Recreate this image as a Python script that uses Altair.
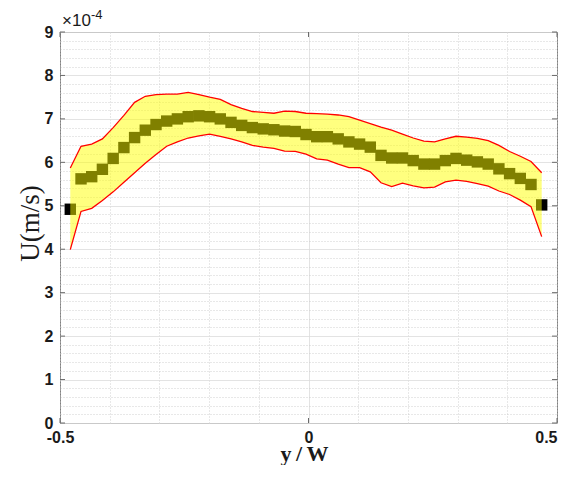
import altair as alt
import pandas as pd

# positions y/W
x_pos = [-0.4793, -0.4577, -0.4362, -0.4147, -0.3930, -0.3714, -0.3499, -0.3284, -0.3068,
         -0.2853, -0.2638, -0.2421, -0.2205, -0.1990, -0.1775, -0.1559, -0.1344, -0.1129,
         -0.0911, -0.0696, -0.0481, -0.0266, -0.0050, 0.0165, 0.0380, 0.0598, 0.0813,
         0.1028, 0.1243, 0.1459, 0.1674, 0.1891, 0.2107, 0.2322, 0.2537, 0.2753, 0.2968,
         0.3183, 0.3398, 0.3616, 0.3831, 0.4046, 0.4262, 0.4477, 0.4692]

# mean velocity (x 1e-4 m/s)
u_mean = [4.92, 5.62, 5.67, 5.84, 6.09, 6.34, 6.57, 6.74, 6.87, 6.95, 7.00, 7.05, 7.07,
          7.05, 7.00, 6.92, 6.85, 6.80, 6.77, 6.75, 6.72, 6.71, 6.64, 6.59, 6.59, 6.54,
          6.47, 6.42, 6.35, 6.16, 6.10, 6.10, 6.04, 5.96, 5.96, 6.04, 6.09, 6.05, 6.01,
          5.96, 5.85, 5.74, 5.63, 5.49, 5.02]

# upper bound
u_upper = [5.87, 6.37, 6.42, 6.54, 6.80, 7.08, 7.38, 7.52, 7.56, 7.57, 7.57, 7.61, 7.56,
           7.50, 7.45, 7.33, 7.24, 7.17, 7.15, 7.13, 7.18, 7.17, 7.13, 7.12, 7.11, 7.09,
           7.05, 6.97, 6.89, 6.81, 6.74, 6.65, 6.56, 6.49, 6.47, 6.54, 6.60, 6.58, 6.55,
           6.50, 6.39, 6.25, 6.14, 6.02, 5.76]

# lower bound
u_lower = [3.99, 4.87, 4.94, 5.12, 5.32, 5.54, 5.76, 5.98, 6.18, 6.37, 6.47, 6.56, 6.61,
           6.65, 6.60, 6.54, 6.47, 6.39, 6.35, 6.32, 6.26, 6.25, 6.19, 6.08, 6.05, 5.96,
           5.88, 5.88, 5.78, 5.53, 5.44, 5.52, 5.46, 5.41, 5.43, 5.55, 5.59, 5.56, 5.51,
           5.45, 5.34, 5.26, 5.13, 4.98, 4.29]

x_ticks = [-0.5, 0.0, 0.5]
y_ticks = [0, 1, 2, 3, 4, 5, 6, 7, 8, 9]
x_grid = [round(-0.5 + 0.1 * i, 1) for i in range(11)]
y_grid = [round(0.2 * i, 1) for i in range(46)]

df = pd.DataFrame({"x": x_pos, "mean": u_mean, "upper": u_upper, "lower": u_lower})
dfy = pd.DataFrame({"t": y_ticks})
dfx = pd.DataFrame({"t": x_ticks})

W, H = 497, 391
LABEL_FONT = "Liberation Sans"
X_TITLE = "y\u2009/\u2009W"
Y_TITLE = "U(m/s)"

xaxis = alt.Axis(
    values=x_grid,
    labelExpr="datum.value === -0.5 ? '-0.5' : datum.value === 0 ? '0' : datum.value === 0.5 ? '0.5' : ''",
    labelAlign=alt.condition("datum.value === 0.5", alt.value("right"), alt.value("center")),
    grid=True,
    gridDash=alt.condition("abs(datum.value) < 1e-9", alt.value([]), alt.value([1, 2])),
    gridColor=alt.condition("abs(datum.value) < 1e-9", alt.value("#dcdcdc"), alt.value("#c4c4c4")),
    gridWidth=0.8,
    ticks=False, domain=False,
    labelFont=LABEL_FONT, labelFontWeight="bold", labelFontSize=16, labelColor="#1a1a1a",
    labelPadding=6, labelFlush=False, labelOverlap=False,
    title=X_TITLE, titleFont="Liberation Serif", titleFontWeight="bold",
    titleFontSize=22, titleColor="#1a1a1a", titleX=244, titleY=37,
    titleAlign="center", titleBaseline="alphabetic",
)
yaxis = alt.Axis(
    values=y_grid,
    labelExpr="datum.value % 1 === 0 ? format(datum.value, 'd') : ''",
    grid=True,
    gridDash=alt.condition("datum.value % 1 === 0", alt.value([]), alt.value([1, 2])),
    gridColor=alt.condition("datum.value % 1 === 0", alt.value("#dcdcdc"), alt.value("#c4c4c4")),
    gridWidth=0.8,
    ticks=False, domain=False,
    labelFont=LABEL_FONT, labelFontWeight="bold", labelFontSize=16, labelColor="#1a1a1a",
    labelPadding=7, labelFlush=False, labelOverlap=False,
    title=Y_TITLE, titleFont="Liberation Serif", titleFontWeight="normal",
    titleFontSize=27, titleColor="#1a1a1a", titleAngle=-90, titleX=-22, titleY=191,
    titleAlign="center", titleBaseline="alphabetic",
)
xscale = alt.Scale(domain=[-0.5, 0.5], nice=False, zero=False)
yscale = alt.Scale(domain=[0, 9], nice=False, zero=False)

X = alt.X("x:Q", scale=xscale, axis=xaxis, title=X_TITLE)

base = alt.Chart(df)

markers = base.mark_square(size=130, color="black", opacity=1, strokeWidth=0).encode(
    x=X, y=alt.Y("mean:Q", scale=yscale, axis=yaxis, title=Y_TITLE)
)
band = base.mark_area(color="#ffff00", opacity=0.5).encode(
    x=X, y=alt.Y("upper:Q", scale=yscale, axis=yaxis, title=Y_TITLE), y2="lower:Q"
)
up_line = base.mark_line(color="#ff0000", strokeWidth=1.3).encode(
    x=X, y=alt.Y("upper:Q", scale=yscale, axis=yaxis, title=Y_TITLE)
)
lo_line = base.mark_line(color="#ff0000", strokeWidth=1.3).encode(
    x=X, y=alt.Y("lower:Q", scale=yscale, axis=yaxis, title=Y_TITLE)
)

tick_color = "#6a6a6a"
yt = alt.Chart(dfy)
left_ticks = yt.mark_rule(color=tick_color, strokeWidth=1).encode(
    y=alt.Y("t:Q", scale=yscale, axis=yaxis, title=Y_TITLE), x=alt.value(0), x2=alt.value(5)
)
right_ticks = yt.mark_rule(color=tick_color, strokeWidth=1).encode(
    y=alt.Y("t:Q", scale=yscale, axis=yaxis, title=Y_TITLE), x=alt.value(W), x2=alt.value(W - 5)
)
xt = alt.Chart(dfx)
bottom_ticks = xt.mark_rule(color=tick_color, strokeWidth=1).encode(
    x=alt.X("t:Q", scale=xscale, axis=xaxis, title=X_TITLE), y=alt.value(H), y2=alt.value(H - 5)
)
top_ticks = xt.mark_rule(color=tick_color, strokeWidth=1).encode(
    x=alt.X("t:Q", scale=xscale, axis=xaxis, title=X_TITLE), y=alt.value(0), y2=alt.value(5)
)

one = alt.Chart(pd.DataFrame({"a": [0]}))
exp_base = one.mark_text(text="\u00d710", font=LABEL_FONT, fontSize=17, color="#1a1a1a",
                         align="left", baseline="alphabetic").encode(
    x=alt.value(2), y=alt.value(-6)
)
exp_sup = one.mark_text(text="-4", font=LABEL_FONT, fontSize=13, color="#1a1a1a",
                        align="left", baseline="alphabetic").encode(
    x=alt.value(31), y=alt.value(-13)
)

chart = alt.layer(
    markers, band, up_line, lo_line,
    left_ticks, right_ticks, bottom_ticks, top_ticks,
    exp_base, exp_sup,
).properties(
    width=W, height=H,
    autosize=alt.AutoSizeParams(type="none"),
    padding={"left": 52, "top": 24, "right": 3, "bottom": 42},
    background="white",
).configure_view(stroke="#808080", strokeWidth=1)

chart.save("out.html", embed_options={"renderer": "svg", "actions": False})
